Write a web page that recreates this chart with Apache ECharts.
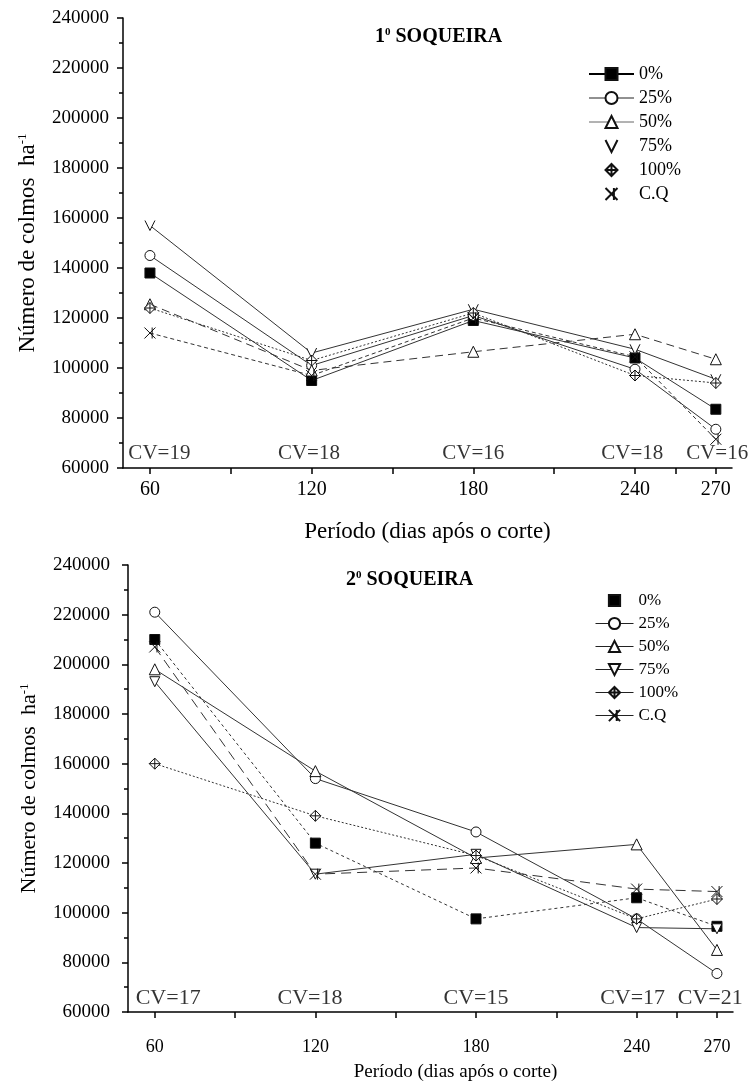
<!DOCTYPE html>
<html>
<head>
<meta charset="utf-8">
<title>Número de colmos - soqueiras</title>
<script src="https://cdn.jsdelivr.net/npm/echarts@6/dist/echarts.min.js"></script>
<style>
html, body { margin: 0; padding: 0; background: #fff; }
#chart { width: 751px; height: 1090px; }
</style>
</head>
<body>
<div id="chart"></div>
<script>
var FONT = 'Liberation Serif';

var periods = [60, 120, 180, 240, 270];
var tickValues = [60, 90, 120, 150, 180, 210, 240, 255, 270];
var names = ['0%', '25%', '50%', '75%', '100%', 'C.Q'];

// 1ª soqueira
var soq1_0   = [138000, 95000, 119000, 104000, 83500];
var soq1_25  = [145000, 101000, 121000, 99500, 75500];
var soq1_50  = [125500, 99000, 106500, 113500, 103500];
var soq1_75  = [157000, 106000, 123500, 107500, 95500];
var soq1_100 = [124000, 103000, 122000, 97000, 94000];
var soq1_cq  = [114000, 97000, 120000, 104500, 71500];
var cv1X = [63.5, 119, 180, 239, 270.5];
var cv1Text = ['CV=19', 'CV=18', 'CV=16', 'CV=18', 'CV=16'];

// 2ª soqueira
var soq2_0   = [210000, 128000, 97500, 106000, 94500];
var soq2_25  = [221000, 154000, 132500, 97500, 75500];
var soq2_50  = [198000, 157000, 122000, 127500, 85000];
var soq2_75  = [193000, 115500, 123500, 94000, 93500];
var soq2_100 = [160000, 139000, 123000, 97500, 105500];
var soq2_cq  = [207000, 115500, 118000, 109500, 108500];
var cv2X = [65, 118, 180, 238.5, 267.5];
var cv2Text = ['CV=17', 'CV=18', 'CV=15', 'CV=17', 'CV=21'];

// simbolos
var VEE = 'path://M0,0 L5,10 L10,0';
var TRIDOWN = 'path://M0,0 L10,0 L5,10 Z';
var DIAX = 'path://M5,0 L10,5 L5,10 L0,5 Z M5,0 L5,10 M0,5 L10,5';
var CQ = 'path://M0,0 L10,10 M0,10 L10,0 M7,0 L7,10';

function mk(name, vals, idx, sym, fill, dash, size) {
  return {
    name: name,
    type: 'line',
    xAxisIndex: idx,
    yAxisIndex: idx,
    data: periods.map(function (p, i) { return [p, vals[i]]; }),
    symbol: sym,
    symbolSize: size || 10,
    itemStyle: { color: fill, borderColor: '#111', borderWidth: 1 },
    lineStyle: { color: '#333', width: 1, type: dash },
    emphasis: { disabled: true },
    z: 3
  };
}

function cvSeries(idx, xs, texts, y, size) {
  return {
    name: 'cv' + idx,
    type: 'scatter',
    xAxisIndex: idx,
    yAxisIndex: idx,
    symbol: 'circle',
    symbolSize: 1,
    itemStyle: { color: 'transparent' },
    silent: true,
    data: xs.map(function (x, i) {
      return { value: [x, y], label: { formatter: texts[i] } };
    }),
    label: { show: true, position: 'inside', color: '#000', fontFamily: FONT, fontSize: size }
  };
}

function xAxis(idx, labelSize, margin, gap, nameSize, pad) {
  return {
    type: 'value',
    gridIndex: idx,
    min: 50,
    max: 276,
    name: 'Período (dias após o corte)',
    nameLocation: 'middle',
    nameGap: gap,
    nameTextStyle: { fontFamily: FONT, fontSize: nameSize, color: '#000', padding: pad },
    axisLine: { show: true, onZero: false, lineStyle: { color: '#000', width: 1.5 } },
    axisTick: { show: true, length: 6, customValues: tickValues, lineStyle: { color: '#000', width: 1.5 } },
    axisLabel: { customValues: periods, fontFamily: FONT, fontSize: labelSize, color: '#000', margin: margin },
    splitLine: { show: false }
  };
}

function yAxis(idx, margin, gap, nameSize) {
  return {
    type: 'value',
    gridIndex: idx,
    min: 60000,
    max: 240000,
    interval: 20000,
    name: 'Número de colmos  ha{s|-1}',
    nameLocation: 'middle',
    nameGap: gap,
    nameTextStyle: {
      fontFamily: FONT, fontSize: nameSize, color: '#000',
      rich: { s: { fontFamily: FONT, fontSize: 13, color: '#000', verticalAlign: 'top' } }
    },
    axisLine: { show: true, onZero: false, lineStyle: { color: '#000', width: 1.5 } },
    axisTick: { show: true, length: 6, lineStyle: { color: '#000', width: 1.5 } },
    minorTick: { show: true, splitNumber: 2, length: 4, lineStyle: { color: '#000', width: 1.5 } },
    axisLabel: {
      fontFamily: FONT, fontSize: 19, color: '#000', margin: margin,
      formatter: function (v) { return String(v); }
    },
    splitLine: { show: false }
  };
}

function strip(n) { return n.replace(/^\d:/, ''); }

var noLine = { opacity: 0 };
var titleRich = { s: { fontFamily: FONT, fontSize: 11, fontWeight: 'bold', color: '#000', verticalAlign: 'top' } };

var chart = echarts.init(document.getElementById('chart'));
chart.setOption({
  animation: false,
  backgroundColor: '#fff',
  title: [
    {
      text: '1{s|0} SOQUEIRA', left: 370, top: 22,
      textStyle: { fontFamily: FONT, fontSize: 20, fontWeight: 'bold', color: '#000', rich: titleRich }
    },
    {
      text: '2{s|0} SOQUEIRA', left: 341, top: 565,
      textStyle: { fontFamily: FONT, fontSize: 20, fontWeight: 'bold', color: '#000', rich: titleRich }
    }
  ],
  legend: [
    {
      orient: 'vertical', left: 583, top: 60, itemWidth: 45, itemHeight: 15, itemGap: 6,
      selectedMode: false, formatter: strip,
      lineStyle: { type: 'solid', width: 1, color: '#222' },
      textStyle: { fontFamily: FONT, fontSize: 18, color: '#000', lineHeight: 18 },
      data: [
        { name: '1:' + names[0], lineStyle: { type: 'solid', width: 2, color: '#000' } },
        { name: '1:' + names[1] },
        { name: '1:' + names[2], lineStyle: { type: 'solid', width: 1, color: '#666' } },
        { name: '1:' + names[3], lineStyle: noLine },
        { name: '1:' + names[4], lineStyle: noLine },
        { name: '1:' + names[5], lineStyle: noLine }
      ]
    },
    {
      orient: 'vertical', left: 590, top: 587, itemWidth: 38, itemHeight: 14, itemGap: 6,
      selectedMode: false, formatter: strip,
      lineStyle: { type: 'solid', width: 1, color: '#222' },
      textStyle: { fontFamily: FONT, fontSize: 17, color: '#000', lineHeight: 16 },
      data: [
        { name: '2:' + names[0], lineStyle: noLine },
        { name: '2:' + names[1] },
        { name: '2:' + names[2] },
        { name: '2:' + names[3] },
        { name: '2:' + names[4] },
        { name: '2:' + names[5] }
      ]
    }
  ],
  grid: [
    { left: 123, top: 18, width: 609, height: 450, outerBoundsMode: 'none' },
    { left: 128, top: 565, width: 605, height: 447, outerBoundsMode: 'none' }
  ],
  xAxis: [
    xAxis(0, 20, 12, 52, 23, 0),
    xAxis(1, 18, 26, 51, 19, [0, 0, 0, 50])
  ],
  yAxis: [
    yAxis(0, 14, 84, 23),
    yAxis(1, 18, 88, 22)
  ],
  series: [
    mk('1:' + names[0], soq1_0, 0, 'rect', '#000', 'solid', 10),
    mk('1:' + names[1], soq1_25, 0, 'circle', '#fff', 'solid', 10),
    mk('1:' + names[2], soq1_50, 0, 'triangle', '#fff', [8, 5], 11),
    mk('1:' + names[3], soq1_75, 0, VEE, '#fff', 'solid', 10),
    mk('1:' + names[4], soq1_100, 0, DIAX, '#fff', [2, 2], 11),
    mk('1:' + names[5], soq1_cq, 0, CQ, '#fff', [4, 3], 11),
    cvSeries(0, cv1X, cv1Text, 66000, 21),
    mk('2:' + names[0], soq2_0, 1, 'rect', '#000', [3, 3], 10),
    mk('2:' + names[1], soq2_25, 1, 'circle', '#fff', 'solid', 10),
    mk('2:' + names[2], soq2_50, 1, 'triangle', '#fff', 'solid', 11),
    mk('2:' + names[3], soq2_75, 1, TRIDOWN, '#fff', 'solid', 10),
    mk('2:' + names[4], soq2_100, 1, DIAX, '#fff', [2, 2], 11),
    mk('2:' + names[5], soq2_cq, 1, CQ, '#fff', [10, 6], 11),
    cvSeries(1, cv2X, cv2Text, 65600, 22)
  ]
});
</script>
</body>
</html>
